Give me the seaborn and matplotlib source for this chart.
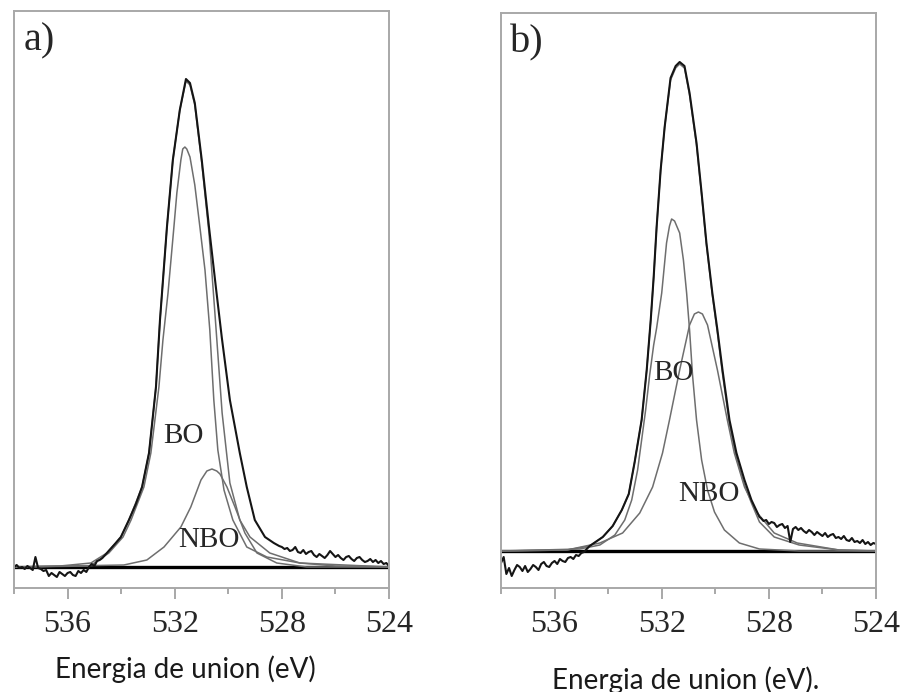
import matplotlib
matplotlib.use("Agg")
import matplotlib.pyplot as plt
import seaborn as sns
from matplotlib.ticker import MultipleLocator

# ---------------- panel a) ----------------
a_data_ev = [538.0, 537.9, 537.8, 537.7, 537.6, 537.5, 537.4, 537.3, 537.2, 537.1,
             537.0, 536.9, 536.8, 536.7, 536.6, 536.5, 536.4, 536.3, 536.2, 536.1,
             536.0, 535.9, 535.8, 535.7, 535.6, 535.5, 535.4, 535.3, 535.2, 535.1,
             535.0, 534.9, 534.8, 534.7, 534.6, 534.5, 534.2, 534.01, 533.71, 533.45,
             533.22, 532.96, 532.70, 532.55, 532.29, 532.07, 531.81, 531.58, 531.43, 531.25,
             530.99, 530.72, 530.46, 530.24, 529.94, 529.57, 529.31, 529.01, 528.63, 528.3,
             528.1, 528.0, 527.9, 527.8, 527.7, 527.6, 527.5, 527.4, 527.3, 527.2,
             527.1, 527.0, 526.9, 526.8, 526.7, 526.6, 526.5, 526.4, 526.3, 526.2,
             526.1, 526.0, 525.9, 525.8, 525.7, 525.6, 525.5, 525.4, 525.3, 525.2,
             525.1, 525.0, 524.9, 524.8, 524.7, 524.6, 524.5, 524.4, 524.3, 524.2,
             524.1, 524.0]
a_data_int = [21, 23, 20, 21, 19, 22, 20, 18, 31, 20,
              19, 17, 18, 12, 15, 13, 11, 16, 14, 12,
              15, 16, 13, 12, 17, 15, 18, 16, 21, 24,
              22, 27, 28, 30, 33, 36, 45, 51, 68, 84,
              101, 135, 201, 268, 361, 428, 478, 509, 505, 485,
              428, 361, 300, 250, 188, 135, 101, 68, 51, 45,
              42, 41, 39, 40, 37, 38, 41, 36, 35, 38,
              34, 36, 37, 33, 31, 34, 32, 30, 33, 37,
              34, 31, 33, 30, 28, 31, 32, 29, 27, 30,
              31, 28, 26, 27, 29, 26, 28, 25, 27, 24,
              25, 22]

a_fit_ev = [538.0, 536.28, 535.13, 534.53, 534.01, 533.71, 533.22, 532.96, 532.70, 532.55,
            532.29, 532.07, 531.81, 531.58, 531.43, 531.25, 530.99, 530.72, 530.50, 530.23,
            529.94, 529.57, 529.19, 528.45, 527.33, 526.0, 524.0]
a_fit_int = [21, 22, 25, 35, 51, 68, 101, 135, 201, 268,
             361, 428, 478, 507, 503, 483, 425, 355, 275, 175,
             105, 68, 51, 35, 25, 22, 21]

a_bo_ev = [538.0, 535.16, 534.46, 533.93, 533.63, 533.15, 532.89, 532.59, 532.44, 532.25,
           532.14, 532.03, 531.92, 531.77, 531.70, 531.62, 531.55, 531.43, 531.25, 531.06,
           530.87, 530.69, 530.54, 530.39, 530.16, 529.83, 529.31, 528.56, 527.33, 524.0]
a_bo_int = [21, 22, 35, 51, 68, 101, 135, 201, 248, 295,
            328, 361, 395, 428, 439, 441, 439, 431, 403, 361,
            318, 258, 188, 138, 98, 68, 41, 31, 25, 21]

a_nbo_ev = [538.0, 533.90, 533.04, 532.40, 531.77, 531.40, 531.02, 530.80, 530.61, 530.43,
            530.31, 530.05, 529.75, 529.38, 528.93, 528.19, 527.07, 524.0]
a_nbo_int = [21, 23, 28, 41, 61, 81, 108, 117, 119, 117,
             114, 101, 81, 55, 35, 25, 21, 21]

a_bg_ev = [538.0, 524.0]
a_bg_int = [21, 21]

# ---------------- panel b) ----------------
b_data_ev = [538.0, 537.9, 537.8, 537.7, 537.6, 537.5, 537.4, 537.3, 537.2, 537.1,
             537.0, 536.9, 536.8, 536.7, 536.6, 536.5, 536.4, 536.3, 536.2, 536.1,
             536.0, 535.9, 535.8, 535.7, 535.6, 535.5, 535.4, 535.3, 535.2, 535.1,
             535.0, 534.9, 534.8, 534.69, 534.20, 533.83, 533.49, 533.23, 533.01, 532.75,
             532.56, 532.41, 532.30, 532.19, 532.04, 531.89, 531.67, 531.48, 531.33, 531.15,
             530.96, 530.70, 530.51, 530.33, 530.11, 529.92, 529.73, 529.47, 529.21, 528.91,
             528.65, 528.35, 528.3, 528.2, 528.1, 528.0, 527.9, 527.8, 527.7, 527.6,
             527.5, 527.4, 527.3, 527.2, 527.1, 527.0, 526.9, 526.8, 526.7, 526.6,
             526.5, 526.4, 526.3, 526.2, 526.1, 526.0, 525.9, 525.8, 525.7, 525.6,
             525.5, 525.4, 525.3, 525.2, 525.1, 525.0, 524.9, 524.8, 524.7, 524.6,
             524.5, 524.4, 524.3, 524.2, 524.1, 524.0]
b_data_int = [25, 31, 14, 20, 12, 18, 23, 21, 17, 22,
              16, 19, 23, 21, 18, 24, 26, 22, 21, 25,
              27, 24, 29, 27, 26, 30, 31, 29, 33, 32,
              35, 36, 39, 42, 51, 62, 78, 94, 126, 168,
              218, 268, 311, 361, 418, 461, 510, 522, 526, 522,
              495, 445, 395, 345, 295, 258, 218, 168, 135, 108,
              88, 71, 70, 67, 68, 64, 66, 65, 61, 63,
              64, 60, 62, 46, 59, 61, 58, 60, 57, 55,
              58, 56, 53, 56, 54, 52, 55, 51, 53, 54,
              50, 51, 49, 52, 48, 47, 50, 46, 47, 45,
              48, 44, 46, 43, 45, 44]

b_fit_ev = [538.0, 535.54, 534.69, 534.20, 533.83, 533.49, 533.23, 533.01, 532.75, 532.56,
            532.41, 532.30, 532.19, 532.04, 531.89, 531.67, 531.48, 531.33, 531.15, 530.96,
            530.70, 530.51, 530.33, 530.11, 529.92, 529.73, 529.47, 529.21, 528.91, 528.65,
            528.35, 527.80, 526.87, 525.38, 524.0]
b_fit_int = [37, 38, 42, 51, 62, 78, 94, 126, 168, 218,
             268, 311, 361, 418, 461, 508, 520, 524, 520, 493,
             443, 393, 343, 293, 255, 214, 164, 130, 103, 85,
             66, 51, 43, 38, 37]

b_bo_ev = [538.0, 535.06, 534.31, 533.75, 533.38, 533.12, 532.90, 532.75, 532.60, 532.45,
           532.30, 532.19, 532.00, 531.82, 531.71, 531.63, 531.52, 531.33, 531.19, 531.07,
           530.96, 530.85, 530.70, 530.51, 530.29, 530.03, 529.66, 529.10, 528.35, 526.87,
           524.0]
b_bo_int = [37, 39, 43, 53, 68, 88, 118, 148, 178, 213,
            243, 260, 295, 345, 362, 369, 367, 355, 328, 295,
            258, 213, 168, 128, 98, 76, 58, 45, 39, 37,
            37]

b_nbo_ev = [538.0, 535.54, 534.31, 533.46, 532.82, 532.34, 531.97, 531.71, 531.33, 530.96,
            530.78, 530.63, 530.48, 530.29, 529.92, 529.55, 529.29, 528.91, 528.43, 527.80,
            526.94, 525.38, 524.0]
b_nbo_int = [37, 38, 45, 55, 75, 101, 135, 168, 218, 263,
             274, 276, 274, 263, 218, 168, 135, 101, 75, 55,
             45, 38, 37]

b_bg_ev = [538.0, 524.0]
b_bg_int = [37, 37]

panel_tags = ["a)", "b)"]
peak_labels = ["BO", "NBO"]
x_titles = ["Energia de union (eV)", "Energia de union (eV)."]

sns.set_style("ticks")
plt.rcParams["font.family"] = ["Liberation Serif", "DejaVu Serif"]

fig = plt.figure(figsize=(9.03, 6.92), dpi=100)
ax_a = fig.add_axes([14 / 903, 104 / 692, 375 / 903, 577 / 692])
ax_b = fig.add_axes([501 / 903, 104 / 692, 375 / 903, 575 / 692])

gray = "#6e6e6e"
panels = [
    (ax_a, a_data_ev, a_data_int, a_fit_ev, a_fit_int, a_bo_ev, a_bo_int,
     a_nbo_ev, a_nbo_int, a_bg_ev, a_bg_int, 577, (531.66, 152), (530.71, 48)),
    (ax_b, b_data_ev, b_data_int, b_fit_ev, b_fit_int, b_bo_ev, b_bo_int,
     b_nbo_ev, b_nbo_int, b_bg_ev, b_bg_int, 575, (531.56, 215), (530.24, 94)),
]

for i, (ax, dx, dy, fx, fy, bx, by, nx, ny, gx, gy, top, bo_pos, nbo_pos) in enumerate(panels):
    sns.lineplot(x=gx, y=gy, ax=ax, color="black", lw=2.4, estimator=None)
    sns.lineplot(x=nx, y=ny, ax=ax, color=gray, lw=1.1, estimator=None)
    sns.lineplot(x=bx, y=by, ax=ax, color=gray, lw=1.1, estimator=None)
    sns.lineplot(x=fx, y=fy, ax=ax, color=gray, lw=1.1, estimator=None)
    sns.lineplot(x=dx, y=dy, ax=ax, color="#151515", lw=1.5, estimator=None)

    ax.set_xlim(538, 524)
    ax.set_ylim(0, top)
    ax.xaxis.set_major_locator(MultipleLocator(4))
    ax.xaxis.set_minor_locator(MultipleLocator(2))
    ax.set_yticks([])
    ax.tick_params(axis="x", which="major", direction="out", length=8, width=1.2,
                   color="#9a9a9a", labelsize=23, pad=8)
    ax.tick_params(axis="x", which="minor", direction="out", length=4, width=1.2,
                   color="#9a9a9a")
    for s in ax.spines.values():
        s.set_color("#a8a8a8")
        s.set_linewidth(1.4)
    ax.set_xlabel("")
    ax.set_ylabel("")

    ax.text(0.025, 0.98, panel_tags[i], transform=ax.transAxes, fontsize=29,
            ha="left", va="top")
    ax.text(bo_pos[0], bo_pos[1], peak_labels[0], fontsize=21, ha="center", va="center")
    ax.text(nbo_pos[0], nbo_pos[1], peak_labels[1], fontsize=21, ha="center", va="center")

fig.text(185 / 903, 1 - 669 / 692, x_titles[0], family="Lato", fontsize=20,
         ha="center", va="center", color="#1a1a1a")
fig.text(686 / 903, 1 - 680 / 692, x_titles[1], family="Lato", fontsize=20,
         ha="center", va="center", color="#1a1a1a")

fig.savefig("out.png", dpi=100, facecolor="white")
